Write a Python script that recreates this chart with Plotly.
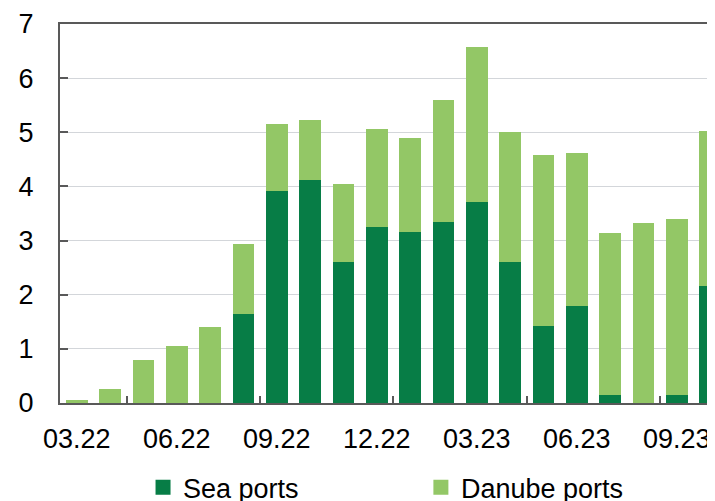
import plotly.graph_objects as go

# monthly shipments, m t
months = ["03.22", "04.22", "05.22", "06.22", "07.22", "08.22", "09.22", "10.22",
          "11.22", "12.22", "01.23", "02.23", "03.23", "04.23", "05.23", "06.23",
          "07.23", "08.23", "09.23", "10.23"]
sea_ports = [0, 0, 0, 0, 0, 1.65, 3.92, 4.12, 2.61, 3.25,
             3.15, 3.35, 3.72, 2.61, 1.43, 1.80, 0.15, 0, 0.15, 2.17]
danube_ports = [0.05, 0.26, 0.79, 1.06, 1.40, 1.28, 1.24, 1.11, 1.44, 1.81,
                1.74, 2.24, 2.85, 2.40, 3.15, 2.81, 2.99, 3.33, 3.25, 2.86]

SEA = "#077D46"
DANUBE = "#93C766"
AXIS = "#595959"
GRID = "#D3D6DA"
FONT = "Liberation Sans, Arial, sans-serif"

x = list(range(len(months)))

fig = go.Figure()
fig.add_trace(go.Bar(x=x, y=sea_ports, name="Sea ports",
                     marker=dict(color=SEA, line=dict(width=0)), showlegend=False))
fig.add_trace(go.Bar(x=x, y=danube_ports, name="Danube ports",
                     marker=dict(color=DANUBE, line=dict(width=0)), showlegend=False))

# legend entries with bigger square swatches than the bar default
for nm, col, lg in (("Sea ports", SEA, "legend"), ("Danube ports", DANUBE, "legend2")):
    fig.add_trace(go.Scatter(x=[None], y=[None], mode="markers", name=nm, legend=lg,
                             marker=dict(symbol="square", size=15, color=col)))

legend_style = dict(orientation="h", xref="container", yref="container",
                    yanchor="middle", y=0.027, xanchor="left",
                    font=dict(size=27, color="black", family=FONT),
                    bgcolor="rgba(0,0,0,0)", borderwidth=0, itemwidth=30)

# page body has an 8px margin, so the figure is sized to end at the window edge
fig.update_layout(
    barmode="stack", bargap=0.35,
    width=707, height=493,
    margin=dict(l=52, r=0, t=16, b=97.5, autoexpand=False),
    paper_bgcolor="white", plot_bgcolor="white",
    font=dict(family=FONT, size=27, color="black"),
    legend=dict(x=0.191, **legend_style),
    legend2=dict(x=0.584, **legend_style),
    xaxis=dict(range=[-0.5, 19.15], tickmode="array",
               tickvals=x[::3], ticktext=months[::3],
               ticks="", showgrid=False, zeroline=False,
               showline=True, linecolor=AXIS, linewidth=2, mirror=True,
               ticklabelstandoff=11,
               minor=dict(ticks="inside", tickmode="linear", tick0=1.5, dtick=4,
                          ticklen=7, tickwidth=2, tickcolor=AXIS, showgrid=False)),
    yaxis=dict(range=[0, 7], dtick=1, showgrid=True, gridcolor=GRID, gridwidth=1.3,
               zeroline=False, showline=True, linecolor=AXIS, linewidth=2,
               ticks="inside", ticklen=8, tickwidth=2, tickcolor=AXIS,
               ticklabelstandoff=19),
)

fig.write_html("out.html")
